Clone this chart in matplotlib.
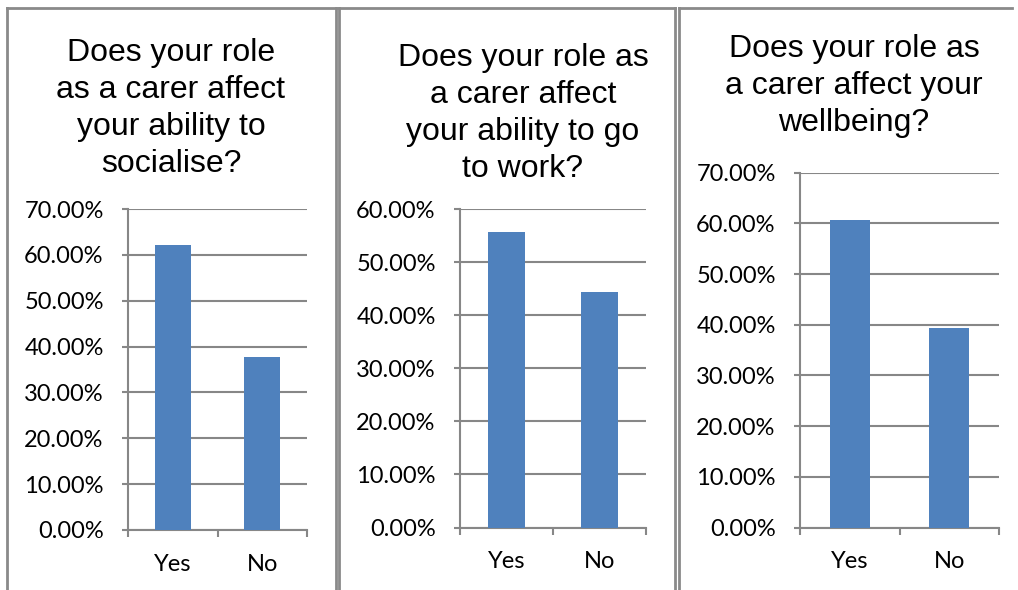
import matplotlib.pyplot as plt
from matplotlib.lines import Line2D
from matplotlib.ticker import FuncFormatter, MultipleLocator

categories = ['Yes', 'No']

titles = [
    'Does your role\nas a carer affect\nyour ability to\nsocialise?',
    'Does your role as\na carer affect\nyour ability to go\nto work?',
    'Does your role as\na carer affect your\nwellbeing?',
]
socialise = [62.2, 37.8]
work = [55.6, 44.4]
wellbeing = [60.6, 39.4]
y_max = [70, 60, 70]

W, H = 1018, 590
BAR = '#4F81BD'
GREY = '#878787'

fig = plt.figure(figsize=(W / 100, H / 100), dpi=100)


def px(x0, y_top, x1, y_bottom):
    # pixel box (origin top-left) -> figure fraction rect
    return [x0 / W, 1 - y_bottom / H, (x1 - x0) / W, (y_bottom - y_top) / H]


# axes boxes in pixels: left, top, right, bottom(0 line)
boxes = [(128, 209, 307, 530), (460, 209, 646, 527.5), (800, 172.7, 999, 527.5)]
title_pos = [(171, 38), (523, 43), (854, 34)]
series = [socialise, work, wellbeing]

for box, vals, top, title, tpos in zip(boxes, series, y_max, titles, title_pos):
    ax = fig.add_axes(px(*box))
    ax.bar(range(len(categories)), vals, width=0.4, color=BAR, zorder=3)
    ax.set_xlim(-0.5, 1.5)
    ax.set_ylim(0, top)
    ax.yaxis.set_major_locator(MultipleLocator(10))
    ax.yaxis.set_major_formatter(FuncFormatter(lambda v, p: f'{v:.2f}%'))
    ax.grid(axis='y', color=GREY, linewidth=1.5, zorder=0)
    ax.set_axisbelow(True)
    for s in ['top', 'right']:
        ax.spines[s].set_visible(False)
    for s in ['left', 'bottom']:
        ax.spines[s].set_color(GREY)
        ax.spines[s].set_linewidth(1.5)
    ax.set_xticks([-0.5, 0.5, 1.5], labels=['', '', ''])
    ax.set_xticks([0, 1], labels=categories, minor=True)
    ax.tick_params(axis='x', which='major', length=5, width=1.5, color=GREY)
    ax.tick_params(axis='x', which='minor', length=0, pad=17)
    ax.tick_params(axis='y', length=4.5, width=1.5, color=GREY, pad=13)
    for lab in ax.get_xticklabels(minor=True) + ax.get_yticklabels():
        lab.set_fontfamily('Lato')
        lab.set_fontsize(17)
    fig.text(tpos[0] / W, 1 - tpos[1] / H, title, ha='center', va='top',
             fontsize=23, family='Liberation Sans', linespacing=1.31)

# panel frames
frame = dict(color='#8a8a8a', linewidth=2)
for x0, x1 in [(6.5, 335.5), (338.5, 675), (678.5, 1012)]:
    fig.add_artist(Line2D([x0 / W, x1 / W], [1 - 8 / H, 1 - 8 / H], **frame))
    fig.add_artist(Line2D([x0 / W, x0 / W], [0, 1 - 8 / H], **frame))
    if x1 < 1000:
        fig.add_artist(Line2D([x1 / W, x1 / W], [0, 1 - 8 / H], **frame))

fig.savefig('out.png', dpi=100)
